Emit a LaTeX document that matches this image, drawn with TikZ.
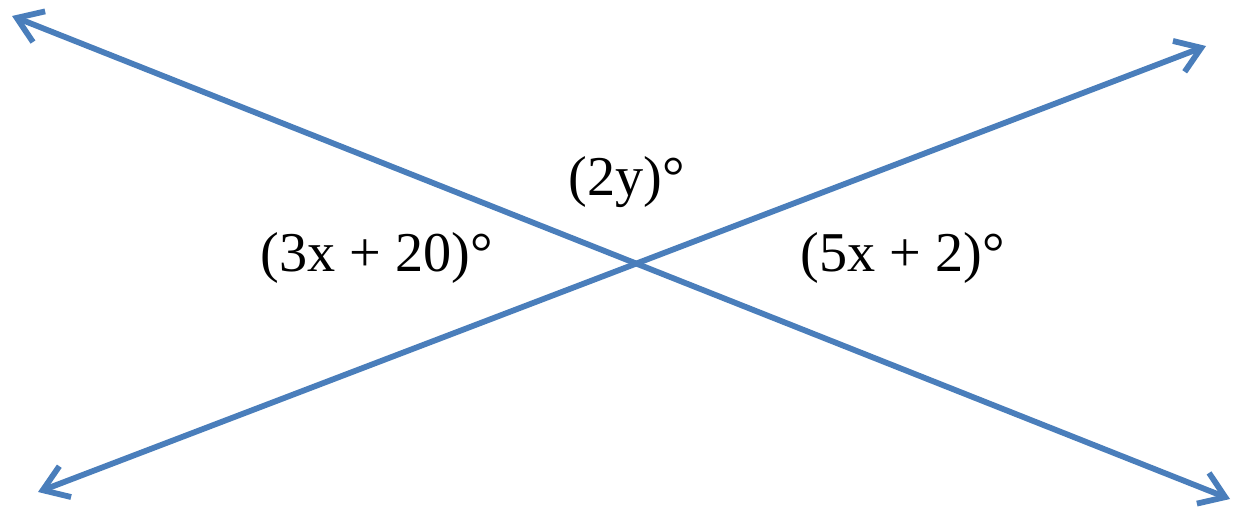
\documentclass[tikz,border=0pt]{standalone}
\usepackage{fontspec}
\setmainfont{Liberation Serif}
\usepackage{tikz}
\usetikzlibrary{arrows.meta}

\definecolor{lineblue}{RGB}{74,126,187}

\begin{document}
\begin{tikzpicture}[x=0.02cm, y=-0.02cm,
  ray/.style={lineblue, line width=3.3pt, {Straight Barb[length=4.8mm,width=6.6mm]}-{Straight Barb[length=4.8mm,width=6.6mm]}},
  anglelabel/.style={font=\fontsize{32}{38}\selectfont, inner sep=0pt}]
\useasboundingbox (0,0) rectangle (1233,510);

% End points of the two lines
\coordinate (tl) at (12,16);
\coordinate (br) at (1230,499);
\coordinate (bl) at (38,492);
\coordinate (tr) at (1206,46);

% Intersecting lines
\draw[ray] (tl) -- (br);
\draw[ray] (bl) -- (tr);

% Angle labels
\node[anglelabel] (left) at (377,258) {(3x + 20)°};
\node[anglelabel] (top) at (627,182) {(2y)°};
\node[anglelabel] (right) at (903,258) {(5x + 2)°};
\end{tikzpicture}
\end{document}
